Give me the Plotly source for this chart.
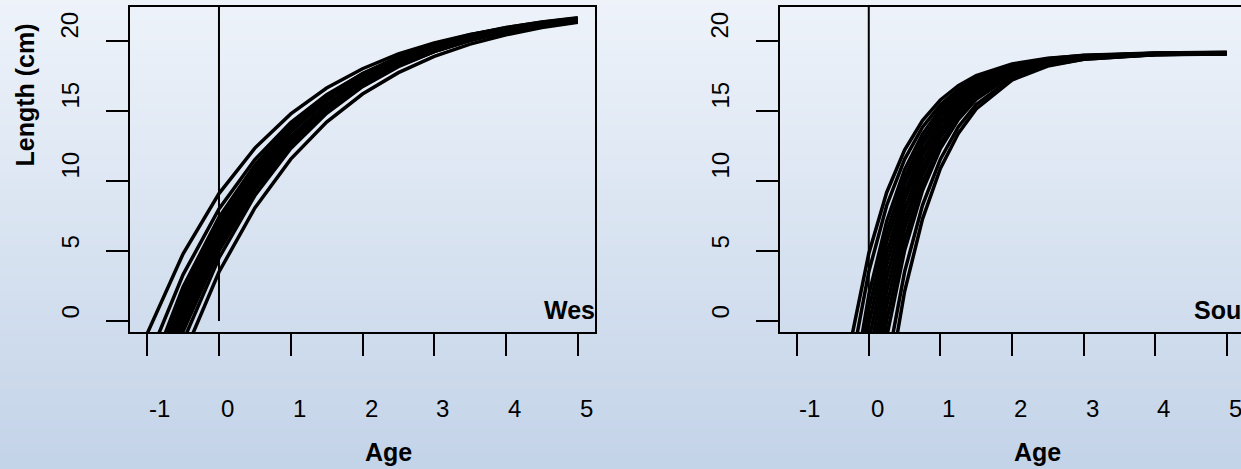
import plotly.graph_objects as go

# ---------------- data ----------------
age_west = [-1.0, -0.5, 0.0, 0.5, 1.0, 1.5, 2.0, 2.5, 3.0, 3.5, 4.0, 4.5, 5.0]
west_curves = [
    [-0.90, 4.80, 9.10, 12.35, 14.79, 16.64, 18.02, 19.08, 19.87, 20.47, 20.91, 21.26, 21.51],
    [-2.90, 3.31, 8.00, 11.52, 14.17, 16.16, 17.66, 18.78, 19.63, 20.27, 20.75, 21.11, 21.38],
    [-4.20, 2.42, 7.40, 11.14, 13.96, 16.08, 17.67, 18.87, 19.77, 20.45, 20.96, 21.34, 21.63],
    [-4.57, 2.08, 7.10, 10.87, 13.70, 15.84, 17.44, 18.64, 19.55, 20.23, 20.75, 21.13, 21.42],
    [-5.18, 1.65, 6.80, 10.67, 13.58, 15.77, 17.41, 18.65, 19.58, 20.28, 20.80, 21.20, 21.50],
    [-5.86, 1.19, 6.50, 10.49, 13.50, 15.75, 17.45, 18.73, 19.69, 20.41, 20.95, 21.36, 21.67],
    [-6.16, 0.89, 6.20, 10.19, 13.20, 15.45, 17.15, 18.43, 19.39, 20.11, 20.65, 21.06, 21.37],
    [-6.85, 0.42, 5.90, 10.02, 13.11, 15.44, 17.19, 18.51, 19.50, 20.24, 20.80, 21.22, 21.54],
    [-7.30, 0.06, 5.60, 9.77, 12.90, 15.25, 17.03, 18.36, 19.36, 20.12, 20.68, 21.11, 21.43],
    [-7.99, -0.41, 5.30, 9.59, 12.82, 15.24, 17.07, 18.44, 19.47, 20.25, 20.83, 21.27, 21.60],
    [-8.36, -0.74, 5.00, 9.32, 12.56, 15.00, 16.84, 18.22, 19.25, 20.03, 20.62, 21.06, 21.39],
    [-9.32, -1.44, 4.50, 8.96, 12.32, 14.84, 16.74, 18.17, 19.24, 20.05, 20.66, 21.12, 21.46],
    [-10.50, -2.54, 3.50, 8.07, 11.56, 14.21, 16.21, 17.74, 18.90, 19.78, 20.44, 20.96, 21.34],
]

age_south = [-0.5, -0.25, 0.0, 0.25, 0.5, 0.75, 1.0, 1.25, 1.5, 2.0, 2.5, 3.0, 4.0, 5.0]
south_curves = [
    [-10.44, -1.44, 4.82, 9.18, 12.21, 14.32, 15.79, 16.81, 17.52, 18.36, 18.77, 18.96, 19.11, 19.14],
    [-13.10, -3.30, 3.51, 8.25, 11.55, 13.84, 15.44, 16.55, 17.33, 18.24, 18.68, 18.90, 19.05, 19.09],
    [-16.62, -5.73, 1.85, 7.13, 10.80, 13.35, 15.13, 16.37, 17.23, 18.25, 18.74, 18.98, 19.15, 19.19],
    [-18.68, -7.18, 0.81, 6.38, 10.25, 12.95, 14.83, 16.13, 17.04, 18.11, 18.63, 18.88, 19.06, 19.11],
    [-21.00, -8.78, -0.28, 5.64, 9.75, 12.62, 14.62, 16.00, 16.97, 18.11, 18.66, 18.93, 19.12, 19.17],
    [-23.31, -10.41, -1.44, 4.81, 9.15, 12.18, 14.28, 15.75, 16.77, 17.97, 18.55, 18.83, 19.04, 19.09],
    [-25.97, -12.23, -2.68, 3.98, 8.61, 11.83, 14.07, 15.63, 16.72, 18.00, 18.62, 18.92, 19.13, 19.18],
    [-28.60, -14.08, -3.97, 3.06, 7.95, 11.36, 13.72, 15.37, 16.52, 17.88, 18.53, 18.85, 19.08, 19.13],
    [-31.40, -16.03, -5.34, 2.10, 7.27, 10.87, 13.38, 15.13, 16.34, 17.77, 18.47, 18.80, 19.05, 19.10],
    [-34.52, -18.19, -6.83, 1.08, 6.58, 10.41, 13.08, 14.93, 16.23, 17.75, 18.49, 18.84, 19.10, 19.16],
    [-37.57, -20.34, -8.34, 0.00, 5.81, 9.85, 12.66, 14.62, 15.98, 17.59, 18.37, 18.75, 19.02, 19.08],
    [-41.06, -22.75, -10.01, -1.14, 5.03, 9.32, 12.31, 14.39, 15.84, 17.55, 18.37, 18.77, 19.06, 19.13],
    [-47.42, -27.18, -13.10, -3.31, 3.51, 8.26, 11.56, 13.86, 15.46, 17.35, 18.26, 18.70, 19.02, 19.10],
    [-53.55, -31.44, -16.06, -5.35, 2.10, 7.28, 10.89, 13.40, 15.15, 17.21, 18.21, 18.70, 19.04, 19.12],
]

x_ticks = [-1, 0, 1, 2, 3, 4, 5]
y_ticks = [0, 5, 10, 15, 20]
panel_labels = ["Wes", "Sou"]
x_title = "Age"
y_title = "Length (cm)"

# ---------------- figure ----------------
W, H = 1241, 469
FONT = "Liberation Sans, Arial, Helvetica, sans-serif"

fig = go.Figure()

for ys in west_curves:
    fig.add_trace(go.Scatter(x=age_west, y=ys, mode="lines",
                             line=dict(color="black", width=3.5),
                             xaxis="x", yaxis="y", showlegend=False, hoverinfo="skip"))
for ys in south_curves:
    fig.add_trace(go.Scatter(x=age_south, y=ys, mode="lines",
                             line=dict(color="black", width=3.5),
                             xaxis="x2", yaxis="y2", showlegend=False, hoverinfo="skip"))

YR = [-0.79, 22.43]
ydom = [1 - 332 / H, 1 - 7 / H]

axis_common = dict(showgrid=False, zeroline=False, showticklabels=False,
                   ticks="outside", ticklen=22, tickwidth=2, tickcolor="black",
                   showline=True, linecolor="black", linewidth=2)

fig.update_layout(
    width=W, height=H,
    margin=dict(l=0, r=0, t=0, b=0),
    paper_bgcolor="#dce5f1",
    plot_bgcolor="rgba(0,0,0,0)",
    xaxis=dict(domain=[130 / W, 595 / W], range=[-1.24, 5.24], tickvals=x_ticks,
               mirror=True, anchor="y", **axis_common),
    yaxis=dict(domain=ydom, range=YR, tickvals=y_ticks, mirror=True, anchor="x",
               **axis_common),
    xaxis2=dict(domain=[780 / W, 1.0], range=[-1.24, 5.199], tickvals=x_ticks,
                mirror=True, anchor="y2", **axis_common),
    yaxis2=dict(domain=ydom, range=YR, tickvals=y_ticks, mirror=False, anchor="x2",
                **axis_common),
)

# vertical gradient background (stripes)
top_c = (238, 243, 250)
bot_c = (195, 211, 232)
N = 94
shapes = []
for i in range(N):
    t = (i + 0.5) / N
    c = tuple(round(top_c[k] + (bot_c[k] - top_c[k]) * t) for k in range(3))
    shapes.append(dict(type="rect", xref="paper", yref="paper",
                       x0=0, x1=1, y0=1 - i / N, y1=1 - (i + 1) / N - 0.002,
                       line=dict(width=0), fillcolor="rgb(%d,%d,%d)" % c, layer="below"))
# vertical reference line at age 0
for xr, yr in (("x", "y"), ("x2", "y2")):
    shapes.append(dict(type="line", xref=xr, yref=yr, x0=0, x1=0, y0=0, y1=YR[1],
                       line=dict(color="black", width=2), layer="above"))
fig.update_layout(shapes=shapes)

ann = []
tick_font = dict(family=FONT, size=24, color="black")
title_font = dict(family=FONT, size=25, color="black", weight="bold")
for xr in ("x", "x2"):
    for v in x_ticks:
        ann.append(dict(x=v, y=1 - 408 / H, xref=xr, yref="paper", text=str(v),
                        showarrow=False, xanchor="left", yanchor="middle", font=tick_font))
for yr, xp in (("y", 70), ("y2", 720)):
    for v in y_ticks:
        ann.append(dict(x=xp / W, y=v, xref="paper", yref=yr, text=str(v), textangle=-90,
                        showarrow=False, xanchor="center", yanchor="bottom", font=tick_font))
for xp in (362.5, 1012):
    ann.append(dict(x=xp / W, y=1 - 452 / H, xref="paper", yref="paper", text=x_title,
                    showarrow=False, xanchor="left", yanchor="middle", font=title_font))
ann.append(dict(x=24 / W, y=1 - 169 / H, xref="paper", yref="paper", text=y_title,
                textangle=-90, showarrow=False, xanchor="center", yanchor="bottom",
                font=title_font))
for lab, xp in zip(panel_labels, (542, 1192)):
    ann.append(dict(x=xp / W, y=1 - 310 / H, xref="paper", yref="paper", text=lab,
                    showarrow=False, xanchor="left", yanchor="middle", font=title_font))
fig.update_layout(annotations=ann)

fig.write_html("out.html", config={"displayModeBar": False},
               post_script="document.body.style.margin='0';")
